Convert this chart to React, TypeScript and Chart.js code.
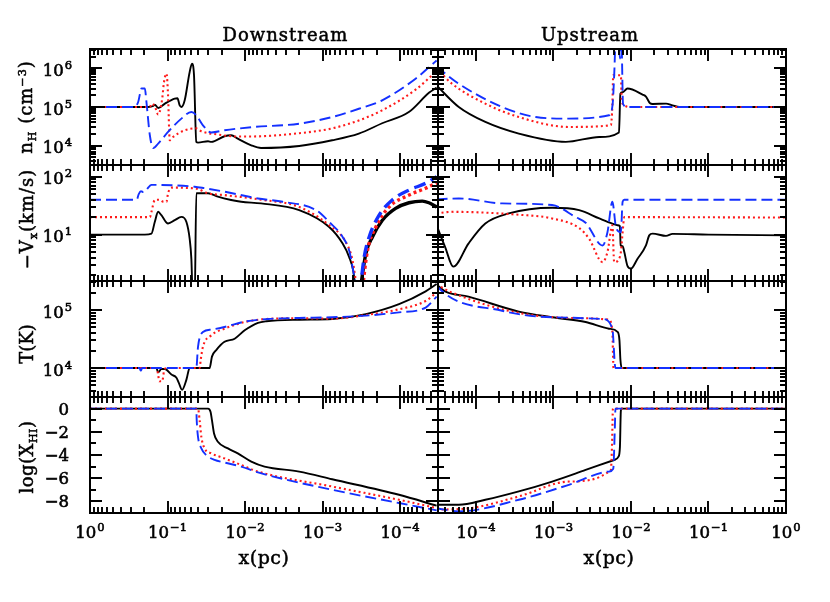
import React, { useEffect, useRef } from 'react';
import { Chart, registerables } from 'chart.js';

Chart.register(...registerables);

type P = [number, number];

// ---------- text / tick labels ----------
const columnTitles = ['Downstream', 'Upstream'];
const xTickExponents = [0, -1, -2, -3, -4];
const densTickExponents = [4, 5, 6];
const velTickExponents = [1, 2];
const tempTickExponents = [4, 5];
const fracTickValues = [0, -2, -4, -6, -8];

// ---------- Downstream: n_H (cm^-3) ----------
const dnDensBlack: P[] = [[1,1e5],[0.178,1e5],[0.153,1.06e5],[0.146,1.15e5],[0.132,9.4e4],[0.108,1.22e5],[0.0807,1.65e5],[0.0745,1.68e5],[0.0696,1.1e5],[0.0662,1.0e5],[0.060,1.49e5],[0.0518,8.0e5],[0.0483,1.32e6],[0.0455,6.6e5],[0.0425,1.25e4],[0.0404,1.2e4],[0.030,1.3e4],[0.0272,1.25e4],[0.0184,1.75e4],[0.0151,1.86e4],[0.0124,1.52e4],[0.0083,1.02e4],[0.0062,8.7e3],[2e-3,9.8e3],[7.5e-4,1.38e4],[3.4e-4,2.05e4],[1.7e-4,3.8e4],[7.7e-5,7.4e4],[4.2e-5,2.36e5],[3.37e-5,3.17e5]];
const dnDensRed: P[] = [[1,1e5],[0.169,1e5],[0.161,1.22e5],[0.146,1.05e5],[0.132,6.4e4],[0.126,7.5e4],[0.117,1.65e5],[0.111,4.4e5],[0.103,7.3e5],[0.0984,2e5],[0.0936,1.38e4],[0.0848,1.68e4],[0.060,2.5e4],[0.0425,2.8e4],[0.0366,2.35e4],[0.0224,1.94e4],[0.0124,1.72e4],[0.0062,1.75e4],[2e-3,2.1e4],[7.5e-4,2.8e4],[3.4e-4,4.5e4],[1.7e-4,8.2e4],[6.3e-5,2.8e5],[3.37e-5,8.5e5]];
const dnDensBlue: P[] = [[1,1e5],[0.264,1e5],[0.239,1.35e5],[0.216,3e5],[0.196,3e5],[0.187,1.35e5],[0.169,1.86e4],[0.153,8.7e3],[0.132,1.13e4],[0.0984,2.26e4],[0.0662,5e4],[0.0492,7.4e4],[0.0425,6.1e4],[0.0349,3.37e4],[0.0272,2.2e4],[0.0184,2.5e4],[0.0083,3.0e4],[2e-3,3.7e4],[7.5e-4,5.5e4],[3.4e-4,9e4],[1.7e-4,1.49e5],[6.3e-5,5.4e5],[3.37e-5,1.6e6]];

// ---------- Upstream: n_H ----------
const upDensBlack: P[] = [[3.1e-5,3.6e5],[6e-5,1e5],[1.32e-4,4.1e4],[3.57e-4,2.05e4],[1.44e-3,1.25e4],[3.9e-3,1.68e4],[7.0e-3,2.2e4],[7.3e-3,2.2e5],[7.8e-3,2.4e5],[9.0e-3,3e5],[1.41e-2,2.1e5],[1.56e-2,1.86e5],[1.76e-2,1.25e5],[1.9e-2,1.2e5],[2.83e-2,1.22e5],[3.44e-2,1.1e5],[4.2e-2,1e5],[1,1e5]];
const upDensRed: P[] = [[3.1e-5,1e6],[4.9e-5,4e5],[1.32e-4,1.22e5],[3.57e-4,5.5e4],[1.58e-3,3.05e4],[5.5e-3,3.37e4],[5.75e-3,1.1e5],[5.9e-3,6.6e5],[7.4e-3,6.6e5],[7.6e-3,1.5e5],[8.2e-3,1.1e5],[9.4e-3,1e5],[1,1e5]];
const upDensBlue: P[] = [[3.1e-5,1.1e6],[6e-5,4e5],[2.17e-4,1e5],[5.9e-4,5.5e4],[1.58e-3,5e4],[5.2e-3,6.1e4],[5.8e-3,1.2e5],[6.07e-3,6.6e5],[6.4e-3,8e6],[6.9e-3,8e6],[7.2e-3,1.8e6],[7.5e-3,8e6],[7.9e-3,1.2e5],[9e-3,1e5],[1,1e5]];

// ---------- Downstream: -V_x (km/s) ----------
const dnVelBlack: P[] = [[1,10],[0.196,10],[0.161,10.4],[0.146,16.5],[0.132,24.7],[0.12,21.6],[0.0984,15.5],[0.0807,17.7],[0.0662,20.2],[0.057,16.5],[0.0518,8.5],[0.0492,3.8],[0.0469,0.6],[0.0447,0.6],[0.0425,51.5],[0.030,51.5],[0.0224,45],[0.0151,39.5],[0.0112,36.8],[0.0062,34.5],[2e-3,26.4],[8.2e-4,13.5],[5.5e-4,7],[4.53e-4,4.1],[4.02e-4,2.4],[3.7e-4,1.0]];
const dnVelBlackThick: P[] = [[3.3e-4,1.0],[2.76e-4,4.7],[2.27e-4,9.1],[1.69e-4,17.7],[1.14e-4,28.3],[7.66e-5,35.4],[5.16e-5,37.8],[4.24e-5,35.4],[3.37e-5,30]];
const dnVelRed: P[] = [[1,20],[0.169,20],[0.161,24.7],[0.146,39.5],[0.126,40],[0.114,37],[0.103,36.8],[0.0984,51.5],[0.089,64.5],[0.0425,62],[0.030,51.5],[0.0184,48],[0.0062,40],[2e-3,30],[8.2e-4,14.5],[5e-4,7.4],[4.1e-4,3.6],[3.54e-4,1.0]];
const dnVelRedThick: P[] = [[3.1e-4,1.0],[2.63e-4,5.3],[2.05e-4,13.5],[1.38e-4,30],[7.66e-5,48],[4.67e-5,63],[3.37e-5,78]];
const dnVelBlue: P[] = [[1,40],[0.25,40],[0.235,50],[0.22,56],[0.205,54],[0.19,58],[0.161,72],[0.0447,67],[0.0332,63],[0.0184,55],[0.0068,42],[3.27e-3,36.8],[1.21e-3,26.4],[8.2e-4,16.5],[5.5e-4,9.1],[4.53e-4,5.3],[4.02e-4,2.4],[3.6e-4,1.0]];
const dnVelBlueThick: P[] = [[3.3e-4,1.0],[2.9e-4,4.1],[2.5e-4,9.1],[1.86e-4,21.6],[1.26e-4,39.5],[7.66e-5,58.5],[4.67e-5,76.7],[3.37e-5,100]];

// ---------- Upstream: -V_x ----------
const upVelBlack: P[] = [[3.1e-5,14.5],[4e-5,6.1],[5.1e-5,2.8],[8e-5,7],[1.32e-4,15.5],[2.65e-4,23.2],[9.6e-4,29],[2.14e-3,26.4],[3.9e-3,19],[5.75e-3,15.5],[6.7e-3,14.5],[7.2e-3,14],[7.35e-3,6.5],[7.8e-3,6.3],[8.2e-3,5],[9e-3,2.9],[1e-2,2.6],[1.21e-2,3.8],[1.56e-2,6.5],[1.72e-2,9.7],[1.9e-2,10.4],[2.83e-2,9.5],[3.44e-2,10.3],[0.1,10],[1,9.7]];
const upVelRed: P[] = [[3.1e-5,23.2],[4.9e-5,24.7],[3.57e-4,22],[9.6e-4,19],[2.14e-3,13],[2.88e-3,8.5],[4.3e-3,3.35],[4.97e-3,5],[5.75e-3,14.5],[6.07e-3,3.35],[7e-3,3.8],[7.4e-3,5],[7.8e-3,11],[8.2e-3,20],[1,19.7]];
const upVelBlue: P[] = [[3.1e-5,40.5],[6e-5,42],[2.17e-4,34.5],[9.6e-4,32.3],[1.94e-3,20],[2.6e-3,16],[4.3e-3,6.5],[4.97e-3,11],[5.75e-3,36.8],[6.4e-3,13.5],[7.4e-3,11],[7.8e-3,36.8],[8.2e-3,40],[1,40]];

// ---------- Downstream: T (K) ----------
const dnTempBlack: P[] = [[1,1e4],[0.139,1e4],[0.132,8.4e3],[0.12,9.6e3],[0.108,9.6e3],[0.089,7.7e3],[0.0767,6.8e3],[0.0717,5.6e3],[0.0649,4.2e3],[0.057,6.3e3],[0.0518,1e4],[0.0286,1e4],[0.0267,1.57e4],[0.0235,2.04e4],[0.0184,2.83e4],[0.0136,3.2e4],[0.0101,4.46e4],[0.0068,6.0e4],[5.3e-3,6.4e4],[2e-3,6.8e4],[7.5e-4,7e4],[2.76e-4,8.5e4],[1.03e-4,1.26e5],[4.67e-5,2.1e5],[3.37e-5,2.8e5]];
const dnTempRed: P[] = [[1,1e4],[0.139,1e4],[0.132,7.7e3],[0.128,5.9e3],[0.117,5.9e3],[0.111,8.8e3],[0.104,1e4],[0.0385,1e4],[0.0373,1.38e4],[0.0349,2.32e4],[0.0272,3.67e4],[0.0184,4.76e4],[0.0101,6.2e4],[5.3e-3,7e4],[2e-3,7.2e4],[7.5e-4,7.1e4],[2.76e-4,8.2e4],[1.03e-4,1.03e5],[4.67e-5,1.43e5],[3.37e-5,2e5]];
const dnTempBlue: P[] = [[1,1e4],[0.23,1e4],[0.221,9e3],[0.212,1e4],[0.0425,1e4],[0.0404,2.32e4],[0.0349,4.17e4],[0.0272,4.6e4],[0.0184,5.1e4],[0.0101,6.3e4],[5e-3,7e4],[2e-3,7.3e4],[7.5e-4,7.5e4],[2.76e-4,8e4],[1.03e-4,9.1e4],[4.67e-5,1.1e5],[3.37e-5,1.7e5]];

// ---------- Upstream: T ----------
const upTempBlack: P[] = [[3.1e-5,2.75e5],[4e-5,2.1e5],[8e-5,1.7e5],[3.57e-4,9.4e4],[9.6e-4,7.5e4],[2.6e-3,6.2e4],[5.2e-3,4.76e4],[6.7e-3,4.2e4],[7.1e-3,3e4],[7.3e-3,1.4e4],[7.6e-3,1e4],[1,1e4]];
const upTempRed: P[] = [[3.1e-5,2.75e5],[4.9e-5,2e5],[3.57e-4,8.9e4],[2.6e-3,7.2e4],[5.2e-3,6.8e4],[5.75e-3,4.2e4],[5.95e-3,1e4],[1,1e4]];
const upTempBlue: P[] = [[3.1e-5,2.75e5],[3.3e-5,2.4e5],[2.17e-4,9.7e4],[9.6e-4,7.5e4],[4.3e-3,7e4],[5.75e-3,4.76e4],[6.3e-3,1e4],[1,1e4]];

// ---------- Downstream: log(X_HI) ----------
const dnFracBlack: P[] = [[1,0],[0.030,0],[0.0278,-0.29],[0.0267,-1.0],[0.0251,-2.14],[0.0224,-2.86],[0.0166,-3.43],[0.0124,-3.86],[0.0083,-4.57],[0.0056,-5.0],[2e-3,-5.43],[7.5e-4,-6.09],[1.03e-4,-7.43],[3.37e-5,-8.37]];
const dnFracRed: P[] = [[1,0],[0.0404,0],[0.0385,-1.0],[0.0366,-2.43],[0.0332,-3.43],[0.0272,-3.86],[0.0184,-4.29],[0.0112,-4.86],[0.0068,-5.43],[7.5e-4,-6.72],[1.03e-4,-7.86],[3.37e-5,-8.57]];
const dnFracBlue: P[] = [[1,0],[0.0425,0],[0.042,-1],[0.0404,-2.43],[0.0366,-3.43],[0.0317,-4.0],[0.0247,-4.43],[0.0184,-4.65],[0.0112,-5.0],[0.0068,-5.5],[7.5e-4,-7.0],[1.03e-4,-8.14],[3.37e-5,-8.77]];

// ---------- Upstream: log(X_HI) ----------
const upFracBlack: P[] = [[3.1e-5,-8.29],[6e-5,-8.29],[1.32e-4,-7.86],[3.57e-4,-7.14],[9.6e-4,-6.29],[2.6e-3,-5.29],[6.07e-3,-4.43],[6.9e-3,-4.14],[7.2e-3,-3.3],[7.4e-3,-0.2],[7.6e-3,0],[1,0]];
const upFracRed: P[] = [[3.1e-5,-8.71],[8e-5,-8.6],[3.57e-4,-7.57],[1.58e-3,-6.29],[5.5e-3,-5.29],[5.7e-3,-3],[5.85e-3,0],[1,0]];
const upFracBlue: P[] = [[3.1e-5,-8.6],[6e-5,-8.86],[3.57e-4,-7.86],[1.58e-3,-6.57],[5.2e-3,-5.43],[5.9e-3,-5.2],[6.2e-3,-1.5],[6.3e-3,0],[1,0]];

// ---------- layout ----------
const W = 830, H = 602;
const COLS: [number, number][] = [[90, 438], [438, 786]];
const ROWS: [number, number][] = [[49, 165], [165, 281], [281, 397], [397, 513]];
const X_MIN = Math.pow(10, -4.49);
const SERIF = '"DejaVu Serif", serif';
const NUMFONT = '"DejaVu Serif", serif';

type RowDef = { type: 'logarithmic' | 'linear'; min: number; max: number; labels: number[] };
const ROW_DEFS: RowDef[] = [
  { type: 'logarithmic', min: Math.pow(10, 3.5), max: Math.pow(10, 6.5), labels: densTickExponents },
  { type: 'logarithmic', min: Math.pow(10, 0.2), max: Math.pow(10, 2.2), labels: velTickExponents },
  { type: 'logarithmic', min: Math.pow(10, 3.5), max: Math.pow(10, 5.5), labels: tempTickExponents },
  { type: 'linear', min: -9, max: 1, labels: fracTickValues },
];

type Kind = 'black' | 'red' | 'blue';
const STYLE: Record<Kind, any> = {
  black: { borderColor: '#000000', borderWidth: 1.9, borderDash: [], order: 3 },
  red: { borderColor: '#ff1a1a', borderWidth: 2.1, borderDash: [2, 3], order: 2 },
  blue: { borderColor: '#1430ff', borderWidth: 1.9, borderDash: [11, 5], order: 1 },
};
const THICK: Record<Kind, any> = {
  black: { borderColor: '#000000', borderWidth: 3.4, borderDash: [], order: 3 },
  red: { borderColor: '#ff1a1a', borderWidth: 3.4, borderDash: [3, 3], order: 2 },
  blue: { borderColor: '#1430ff', borderWidth: 3.4, borderDash: [12, 6], order: 1 },
};

type Series = [P[], Kind, boolean?];
type PanelDef = { col: number; row: number; series: Series[] };
const PANELS: PanelDef[] = [
  { col: 0, row: 0, series: [[dnDensBlack, 'black'], [dnDensRed, 'red'], [dnDensBlue, 'blue']] },
  { col: 1, row: 0, series: [[upDensBlack, 'black'], [upDensRed, 'red'], [upDensBlue, 'blue']] },
  { col: 0, row: 1, series: [[dnVelBlack, 'black'], [dnVelRed, 'red'], [dnVelBlue, 'blue'], [dnVelBlackThick, 'black', true], [dnVelRedThick, 'red', true], [dnVelBlueThick, 'blue', true]] },
  { col: 1, row: 1, series: [[upVelBlack, 'black'], [upVelRed, 'red'], [upVelBlue, 'blue']] },
  { col: 0, row: 2, series: [[dnTempBlack, 'black'], [dnTempRed, 'red'], [dnTempBlue, 'blue']] },
  { col: 1, row: 2, series: [[upTempBlack, 'black'], [upTempRed, 'red'], [upTempBlue, 'blue']] },
  { col: 0, row: 3, series: [[dnFracBlack, 'black'], [dnFracRed, 'red'], [dnFracBlue, 'blue']] },
  { col: 1, row: 3, series: [[upFracBlack, 'black'], [upFracRed, 'red'], [upFracBlue, 'blue']] },
];

// ---------- axis plugin (frame, inward ticks, tick labels) ----------
function logTicks(lo: number, hi: number) {
  const out: { v: number; major: boolean }[] = [];
  for (let d = Math.floor(Math.log10(lo)) - 1; d <= Math.ceil(Math.log10(hi)); d++) {
    for (let m = 1; m <= 9; m++) {
      const v = m * Math.pow(10, d);
      if (v >= lo * (1 - 1e-9) && v <= hi * (1 + 1e-9)) out.push({ v, major: m === 1 });
    }
  }
  return out;
}
function linTicks(lo: number, hi: number) {
  const out: { v: number; major: boolean }[] = [];
  for (let v = Math.ceil(lo); v <= hi; v += 1) out.push({ v, major: v % 2 === 0 });
  return out;
}
const minus = (s: string) => s.replace('-', '\u2212');
function boldText(ctx: CanvasRenderingContext2D, s: string, x: number, y: number) {
  ctx.fillText(s, x, y);
  ctx.strokeText(s, x, y);
}
function drawPow(ctx: CanvasRenderingContext2D, exp: number, x: number, base: number, align: 'right' | 'center') {
  const b = '10';
  const e = minus(String(exp));
  ctx.font = `16.5px ${NUMFONT}`;
  const wb = ctx.measureText(b).width;
  ctx.font = `11.5px ${NUMFONT}`;
  const we = ctx.measureText(e).width;
  const total = wb + 1 + we;
  const x0 = align === 'right' ? x - total : x - total / 2;
  ctx.font = `16.5px ${NUMFONT}`;
  boldText(ctx, b, x0, base);
  ctx.font = `11.5px ${NUMFONT}`;
  boldText(ctx, e, x0 + wb + 1, base - 7);
}

const smAxes = {
  id: 'smAxes',
  afterDatasetsDraw(chart: any) {
    const opt = chart.options.plugins.smAxes;
    const ctx: CanvasRenderingContext2D = chart.ctx;
    const a = chart.chartArea;
    const xs = chart.scales.x, ys = chart.scales.y;
    ctx.save();
    ctx.setLineDash([]);
    ctx.strokeStyle = '#000';
    ctx.lineWidth = 1.9;
    ctx.beginPath();
    for (const t of logTicks(xs.min, xs.max)) {
      const p = Math.round(xs.getPixelForValue(t.v));
      const L = t.major ? 12 : 6;
      ctx.moveTo(p, a.top); ctx.lineTo(p, a.top + L);
      ctx.moveTo(p, a.bottom); ctx.lineTo(p, a.bottom - L);
    }
    const yt = opt.linear ? linTicks(ys.min, ys.max) : logTicks(ys.min, ys.max);
    for (const t of yt) {
      const p = Math.round(ys.getPixelForValue(t.v));
      const L = t.major ? 12 : 6;
      ctx.moveTo(a.left, p); ctx.lineTo(a.left + L, p);
      ctx.moveTo(a.right, p); ctx.lineTo(a.right - L, p);
    }
    ctx.stroke();
    ctx.lineWidth = 2;
    ctx.strokeRect(a.left, a.top, a.right - a.left, a.bottom - a.top);

    ctx.fillStyle = '#000';
    ctx.strokeStyle = '#000';
    ctx.lineWidth = 0.6;
    ctx.textBaseline = 'alphabetic';
    ctx.textAlign = 'left';
    if (opt.yLabels) {
      for (const v of opt.yLabels as number[]) {
        if (opt.linear) {
          const p = ys.getPixelForValue(v);
          ctx.font = `16.5px ${NUMFONT}`;
          ctx.textAlign = 'right';
          boldText(ctx, minus(String(v)), a.left - 21, p + 6);
          ctx.textAlign = 'left';
        } else {
          const p = ys.getPixelForValue(Math.pow(10, v));
          drawPow(ctx, v, a.left - 18, p + 7.5, 'right');
        }
      }
    }
    if (opt.xLabels) {
      for (const e of opt.xLabels as number[]) {
        const p = xs.getPixelForValue(Math.pow(10, e));
        drawPow(ctx, e, p, a.bottom + 25, 'center');
      }
    }
    ctx.restore();
  },
};

function makeConfig(def: PanelDef): any {
  const [l, r] = COLS[def.col];
  const [t, b] = ROWS[def.row];
  const rd = ROW_DEFS[def.row];
  const datasets = def.series.map(([pts, kind, thick]) => ({
    data: pts.map(([x, y]) => ({ x, y })),
    ...(thick ? THICK[kind] : STYLE[kind]),
    fill: false,
    pointRadius: 0,
    pointHoverRadius: 0,
    cubicInterpolationMode: 'monotone',
    borderCapStyle: 'butt',
    borderJoinStyle: 'round',
  }));
  return {
    type: 'line',
    data: { datasets },
    options: {
      responsive: false,
      maintainAspectRatio: false,
      animation: false,
      events: [],
      layout: { padding: { left: l, top: t, right: W - r, bottom: H - b } },
      scales: {
        x: { type: 'logarithmic', min: X_MIN, max: 1, reverse: def.col === 0, display: false },
        y: { type: rd.type, min: rd.min, max: rd.max, display: false },
      },
      plugins: {
        legend: { display: false },
        tooltip: { enabled: false },
        smAxes: {
          linear: rd.type === 'linear',
          yLabels: def.col === 0 ? rd.labels : null,
          xLabels: def.row === 3 ? xTickExponents : null,
        },
      },
    },
    plugins: [smAxes],
  };
}

function Panel({ def }: { def: PanelDef }) {
  const ref = useRef<HTMLCanvasElement>(null);
  useEffect(() => {
    if (!ref.current) return;
    const chart = new Chart(ref.current, makeConfig(def));
    return () => chart.destroy();
  }, [def]);
  return (
    <canvas
      ref={ref}
      width={W}
      height={H}
      style={{ position: 'absolute', left: 0, top: 0, width: W, height: H }}
    />
  );
}

const sub = (s: string) => (
  <span style={{ fontSize: '0.62em', position: 'relative', top: '0.32em' }}>{s}</span>
);
const sup = (s: string) => (
  <span style={{ fontSize: '0.62em', position: 'relative', top: '-0.55em' }}>{s}</span>
);

const TEXT_BASE: any = {
  position: 'absolute',
  whiteSpace: 'nowrap',
  fontFamily: SERIF,
  color: '#000',
  WebkitTextStroke: '0.5px #000',
};

function YTitle({ cx, cy, children, spacing = 0 }: any) {
  return (
    <div
      style={{
        ...TEXT_BASE,
        left: cx,
        top: cy,
        transform: 'translate(-50%, -50%) rotate(-90deg)',
        fontSize: 18,
        lineHeight: '18px',
        letterSpacing: spacing,
      }}
    >
      {children}
    </div>
  );
}

function HTitle({ cx, top, text, size = 18, spacing = 1 }: any) {
  return (
    <div
      style={{
        ...TEXT_BASE,
        left: cx,
        top,
        transform: 'translateX(-50%)',
        fontSize: size,
        lineHeight: `${size}px`,
        letterSpacing: spacing,
      }}
    >
      {text}
    </div>
  );
}

export default function App() {
  return (
    <div style={{ position: 'absolute', left: 0, top: 0, width: W, height: H, background: '#fff', overflow: 'hidden' }}>
      {PANELS.map((p, i) => (
        <Panel key={i} def={p} />
      ))}
      <HTitle cx={285.5} top={26} text={columnTitles[0]} />
      <HTitle cx={590} top={26} text={columnTitles[1]} />
      <HTitle cx={264} top={548} text="x(pc)" size={19} spacing={0.5} />
      <HTitle cx={609} top={548} text="x(pc)" size={19} spacing={0.5} />
      <YTitle cx={27} cy={107} spacing={1}>
        n{sub('H')} (cm{sup('\u22123')})
      </YTitle>
      <YTitle cx={28} cy={219} spacing={1}>
        {'\u2212'}V{sub('x')}(km/s)
      </YTitle>
      <YTitle cx={27} cy={344}>T(K)</YTitle>
      <YTitle cx={28} cy={457} spacing={0.5}>
        log(X{sub('HI')})
      </YTitle>
    </div>
  );
}
